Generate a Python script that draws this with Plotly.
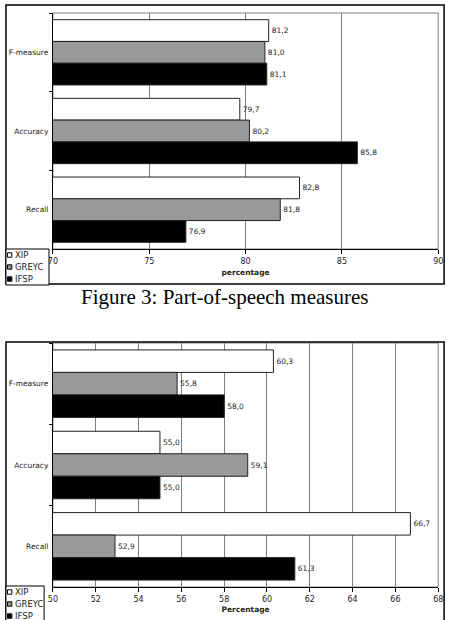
import plotly.graph_objects as go

# ---- data ----
categories = ["F-measure", "Accuracy", "Recall"]
series_names = ["XIP", "GREYC", "IFSP"]

pos_xip = [81.2, 79.7, 82.8]
pos_greyc = [81.0, 80.2, 81.8]
pos_ifsp = [81.1, 85.8, 76.9]

b_xip = [60.3, 55.0, 66.7]
b_greyc = [55.8, 59.1, 52.9]
b_ifsp = [58.0, 55.0, 61.3]

top_range = [70, 90]
top_dtick = 5
bot_range = [50, 68]
bot_dtick = 2

caption = "Figure 3: Part-of-speech measures"

# ---- styles ----
W, H = 454, 620
colors = ["#ffffff", "#999999", "#000000"]
FONT = "DejaVu Sans"
GRID = "#808080"


def px(x):
    return x / W


def py(y):
    return 1 - y / H


fig = go.Figure()

for vals_set, xa, ya in [((pos_xip, pos_greyc, pos_ifsp), "x", "y"),
                         ((b_xip, b_greyc, b_ifsp), "x2", "y2")]:
    for name, vals, col in zip(series_names, vals_set, colors):
        fig.add_trace(go.Bar(
            x=vals, y=categories, orientation="h", name=name,
            marker=dict(color=col, line=dict(color="#222222", width=1)),
            texttemplate="%{x:.1f}", textposition="outside",
            constraintext="none", cliponaxis=False,
            textfont=dict(family=FONT, size=7.5, color="#222222"),
            xaxis=xa, yaxis=ya, showlegend=False, hoverinfo="skip",
        ))

xcommon = dict(showgrid=True, gridcolor=GRID, gridwidth=1, showline=True,
               linecolor="#000000", linewidth=1, ticks="outside", ticklen=4,
               tickcolor="#000000", zeroline=False,
               tickfont=dict(family=FONT, size=8, color="#222222"))
ycommon = dict(type="category", categoryorder="array", categoryarray=categories,
               autorange="reversed", showline=True, linecolor="#000000",
               linewidth=1, ticks="outside", ticklen=3, tickcolor="#000000",
               tickson="boundaries", showgrid=False, ticklabelstandoff=2,
               tickfont=dict(family=FONT, size=7.5, color="#222222"))

top_dom_y = [py(249), py(13)]
bot_dom_y = [py(587), py(343)]
dom_x = [px(49), px(443)]

fig.update_layout(
    width=W, height=H, autosize=False,
    margin=dict(l=0, r=0, t=0, b=0),
    paper_bgcolor="white", plot_bgcolor="rgba(0,0,0,0)",
    separators=",.",
    barmode="group", bargap=0.17, bargroupgap=0,
    xaxis=dict(domain=dom_x, anchor="y", range=top_range, dtick=top_dtick,
               title=dict(text="percentage", standoff=5,
                          font=dict(family=FONT, size=7.5, color="#222222", weight="bold")),
               **xcommon),
    yaxis=dict(domain=top_dom_y, anchor="x", **ycommon),
    xaxis2=dict(domain=dom_x, anchor="y2", range=bot_range, dtick=bot_dtick,
                title=dict(text="Percentage", standoff=4,
                           font=dict(family=FONT, size=7.5, color="#222222", weight="bold")),
                **xcommon),
    yaxis2=dict(domain=bot_dom_y, anchor="x2", **ycommon),
)

shapes = []
annotations = []

# plot area borders (grey)
for dy in (top_dom_y, bot_dom_y):
    shapes.append(dict(type="rect", xref="paper", yref="paper",
                       x0=dom_x[0], x1=dom_x[1], y0=dy[0], y1=dy[1],
                       line=dict(color=GRID, width=1), layer="below"))

# outer frames
shapes.append(dict(type="rect", xref="paper", yref="paper",
                   x0=px(1), x1=px(449), y0=py(284), y1=py(5),
                   line=dict(color="#000000", width=1.5)))
shapes.append(dict(type="rect", xref="paper", yref="paper",
                   x0=px(1), x1=px(449), y0=py(625), y1=py(342),
                   line=dict(color="#000000", width=1.5)))

# legends (drawn manually, compact like the original)
legend_specs = [
    dict(box=(1, 249, 45, 285), rows=[255, 267, 279]),
    dict(box=(1, 586, 40, 625), rows=[592, 604, 616]),
]
for spec in legend_specs:
    x0, y0, x1, y1 = spec["box"]
    shapes.append(dict(type="rect", xref="paper", yref="paper",
                       x0=px(x0), x1=px(x1), y0=py(y1), y1=py(y0),
                       line=dict(color="#000000", width=1),
                       fillcolor="white", layer="above"))
    for name, col, ry in zip(series_names, colors, spec["rows"]):
        shapes.append(dict(type="rect", xref="paper", yref="paper",
                           x0=px(2.5), x1=px(7), y0=py(ry + 2.2), y1=py(ry - 2.2),
                           line=dict(color="#000000", width=1), fillcolor=col,
                           layer="above"))
        annotations.append(dict(text=name, xref="paper", yref="paper",
                                x=px(8.5), y=py(ry), xanchor="left", yanchor="middle",
                                showarrow=False,
                                font=dict(family=FONT, size=8.5, color="#222222")))

annotations.append(dict(text=caption, xref="paper", yref="paper",
                        x=px(225), y=py(297), xanchor="center", yanchor="middle",
                        showarrow=False,
                        font=dict(family="Liberation Serif", size=21, color="#000000")))

fig.update_layout(shapes=shapes, annotations=annotations)

fig.write_html("out.html")
